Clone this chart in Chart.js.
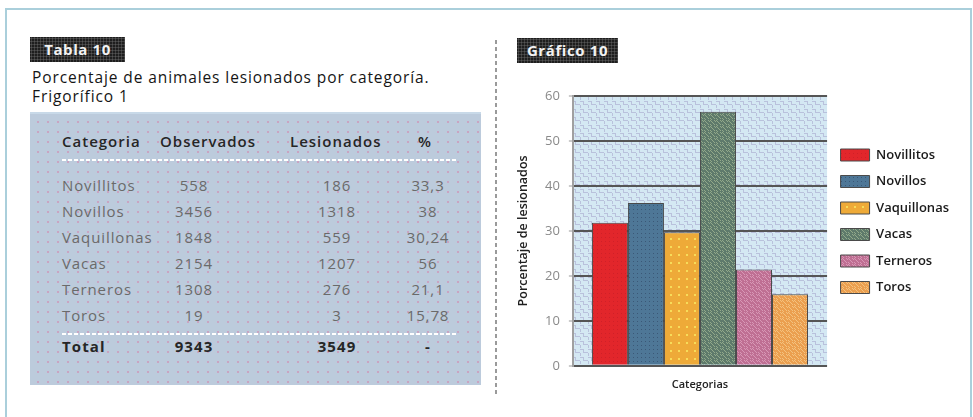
<!DOCTYPE html>
<html lang="es">
<head>
<meta charset="utf-8">
<script src="https://cdn.jsdelivr.net/npm/chart.js@4.4.1/dist/chart.umd.min.js"></script>
<style>
  html, body { margin: 0; padding: 0; }
  body {
    width: 973px; height: 417px; position: relative; overflow: hidden;
    background: #fff; font-family: "Open Sans", sans-serif;
  }
  .frame {
    position: absolute; left: 5px; top: 8px; width: 963px; height: 430px;
    border: 2px solid #aacfdb;
  }
  .divider {
    position: absolute; left: 495px; top: 40px; width: 2px; height: 356px;
    background: repeating-linear-gradient(to bottom, #9a9a9a 0 4px, transparent 4px 7px);
  }
  .badge {
    position: absolute; height: 25px; line-height: 25px; text-align: center;
    color: #f2f2f2; font-weight: 700; font-size: 15px; letter-spacing: 0.6px;
    background: radial-gradient(circle, #555 0.8px, transparent 1.3px) 0 0/3px 3px, #1e1e1e;
  }
  .title {
    position: absolute; left: 32px; top: 68px; color: #151515;
    font-size: 15.5px; line-height: 19px; letter-spacing: 0.9px;
  }
  .tablebox {
    position: absolute; left: 30px; top: 112px; width: 451px; height: 271px;
    background: radial-gradient(circle, #c9a4c2 0.9px, transparent 1.4px) 3px 3px/10px 10px, #bccbdc;
    border-top: 2px solid #c8d9e8;
  }
  .cell { position: absolute; font-size: 15px; white-space: nowrap; letter-spacing: 1.1px; }
  .head { color: #262626; font-weight: 600; letter-spacing: 1px; }
  .row { color: #6a6a6a; letter-spacing: 0.9px; }
  .total { color: #262626; font-weight: 700; }
  .rule {
    position: absolute; left: 32px; width: 396px; height: 2px;
    background: repeating-linear-gradient(to right, #fff 0 4px, transparent 4px 6px);
  }
  #chartWrap { position: absolute; left: 500px; top: 60px; width: 473px; height: 345px; }
</style>
</head>
<body>
<div class="frame"></div>
<div class="divider"></div>

<div class="badge" style="left:30px; top:37px; width:95px;">Tabla 10</div>
<div class="title">Porcentaje de animales lesionados por categoría.<br>Frigorífico 1</div>
<div class="tablebox" id="tabla"></div>

<div class="badge" style="left:517px; top:38px; width:101px;">Gráfico 10</div>
<div id="chartWrap"><canvas id="grafico" width="473" height="345"></canvas></div>

<script>
// Tabla 10: animales observados y lesionados por categoría
const categorias = ['Novillitos', 'Novillos', 'Vaquillonas', 'Vacas', 'Terneros', 'Toros'];
const observados = ['558', '3456', '1848', '2154', '1308', '19'];
const lesionados = ['186', '1318', '559', '1207', '276', '3'];
const porcentajes = ['33,3', '38', '30,24', '56', '21,1', '15,78'];
const totalObservados = '9343';
const totalLesionados = '3549';

// Gráfico 10: porcentaje de lesionados por categoría (alturas de las barras)
const porcentajeBarras = [31.8, 36.2, 29.7, 56.5, 21.4, 15.9];
const ejeY = { min: 0, max: 60, paso: 10 };

// ---- tabla ----
const tabla = document.getElementById('tabla');
function celda(text, cls, x, y, align) {
  const d = document.createElement('div');
  d.className = 'cell ' + cls;
  d.textContent = text;
  d.style.top = y + 'px';
  d.style.left = x + 'px';
  if (align === 'center') d.style.transform = 'translateX(-50%)';
  tabla.appendChild(d);
}
function linea(y) {
  const r = document.createElement('div');
  r.className = 'rule';
  r.style.top = y + 'px';
  tabla.appendChild(r);
}
const colCat = 32, colObs = 164, colLes = 307, colPct = 398;
celda('Categoria', 'head', colCat, 17, 'left');
celda('Observados', 'head', 130, 17, 'left');
celda('Lesionados', 'head', 260, 17, 'left');
celda('%', 'head', colPct - 3, 17, 'center');
linea(45);
categorias.forEach((c, i) => {
  const y = 61 + i * 26;
  celda(c, 'row', colCat, y, 'left');
  celda(observados[i], 'row', colObs, y, 'center');
  celda(lesionados[i], 'row', colLes, y, 'center');
  celda(porcentajes[i], 'row', colPct, y, 'center');
});
linea(219);
celda('Total', 'total', colCat, 222, 'left');
celda(totalObservados, 'total', colObs, 222, 'center');
celda(totalLesionados, 'total', colLes, 222, 'center');
celda('-', 'total', colPct, 222, 'center');

// ---- tramas para barras y fondo ----
function trama(fondo, tinta, tipo) {
  const c = document.createElement('canvas');
  const s = tipo === 'zigzag' ? 8 : tipo === 'puntosAnchos' ? 8 : tipo === 'cruces' ? 6 : 4;
  c.width = s; c.height = s;
  const g = c.getContext('2d');
  g.fillStyle = fondo;
  g.fillRect(0, 0, s, s);
  g.fillStyle = tinta;
  if (tipo === 'puntos') {
    g.fillRect(1, 1, 1, 1);
  } else if (tipo === 'puntosAnchos') {
    g.fillRect(2, 2, 2, 2);
  } else if (tipo === 'cruces') {
    g.fillRect(0, 0, 1, 1); g.fillRect(2, 2, 1, 1);
    g.fillRect(4, 0, 1, 1); g.fillRect(3, 3, 1, 1);
    g.fillRect(0, 4, 1, 1); g.fillRect(4, 4, 1, 1);
    g.fillRect(1, 1, 1, 1); g.fillRect(1, 5, 1, 1); g.fillRect(5, 1, 1, 1);
  } else if (tipo === 'zigzag') {
    g.fillRect(0, 1, 4, 1); g.fillRect(3, 1, 1, 4); g.fillRect(3, 4, 5, 1);
    g.fillRect(0, 5, 1, 3);
  }
  return g.createPattern(c, 'repeat');
}

const rellenos = [
  trama('#e2262b', '#cf2028', 'puntos'),
  trama('#4e7797', '#3b5877', 'puntos'),
  trama('#eeaa38', '#f7dc5a', 'puntosAnchos'),
  trama('#5e7a6b', '#92a98a', 'cruces'),
  trama('#bf6f93', '#d898b6', 'cruces'),
  trama('#eb9f4f', '#f4c27f', 'cruces')
];
const fondoGrafico = trama('#d4e8f3', '#b9c1dc', 'zigzag');

const fondoArea = {
  id: 'fondoArea',
  beforeDraw(chart) {
    const { ctx, chartArea: a } = chart;
    ctx.save();
    ctx.fillStyle = fondoGrafico;
    ctx.fillRect(a.left, a.top, a.right - a.left, a.bottom - a.top);
    ctx.restore();
  }
};

const ctx = document.getElementById('grafico').getContext('2d');
new Chart(ctx, {
  type: 'bar',
  data: {
    labels: [''],
    datasets: categorias.map((c, i) => ({
      label: c,
      data: [porcentajeBarras[i]],
      backgroundColor: rellenos[i],
      borderColor: '#4a4a4a',
      borderWidth: 1
    }))
  },
  options: {
    responsive: false,
    animation: false,
    categoryPercentage: 0.85,
    barPercentage: 1.0,
    layout: { padding: { left: 16, right: 14, top: 36, bottom: 14 } },
    scales: {
      x: {
        grid: { display: false },
        border: { display: false },
        ticks: { display: false },
        title: {
          display: true, text: 'Categorias', color: '#222',
          font: { family: 'Open Sans', size: 11, weight: '600' }, padding: { top: 4, bottom: 0 }
        }
      },
      y: {
        min: ejeY.min, max: ejeY.max,
        ticks: {
          stepSize: ejeY.paso, color: '#8a8a8a', padding: 9,
          font: { family: 'Open Sans', size: 13 }
        },
        grid: { color: '#555', lineWidth: 2, tickLength: 4, tickColor: '#999', tickWidth: 1 },
        border: { color: '#a0a0a0', width: 2 },
        title: {
          display: true, text: 'Porcentaje de lesionados', color: '#1e1e1e',
          font: { family: 'Open Sans', size: 12.5, weight: '600' }, padding: { top: 0, bottom: 5 }
        }
      }
    },
    plugins: {
      legend: {
        position: 'right',
        align: 'start',
        maxWidth: 160,
        title: { display: true, text: ' ', font: { size: 11, lineHeight: 1 }, padding: { top: 14, bottom: 14 } },
        labels: {
          boxWidth: 29, boxHeight: 12, padding: 13.5, color: '#1a1a1a',
          font: { family: 'Open Sans', size: 13, weight: '600', lineHeight: 1 }
        }
      },
      tooltip: { enabled: false }
    }
  },
  plugins: [fondoArea]
});
</script>
</body>
</html>
